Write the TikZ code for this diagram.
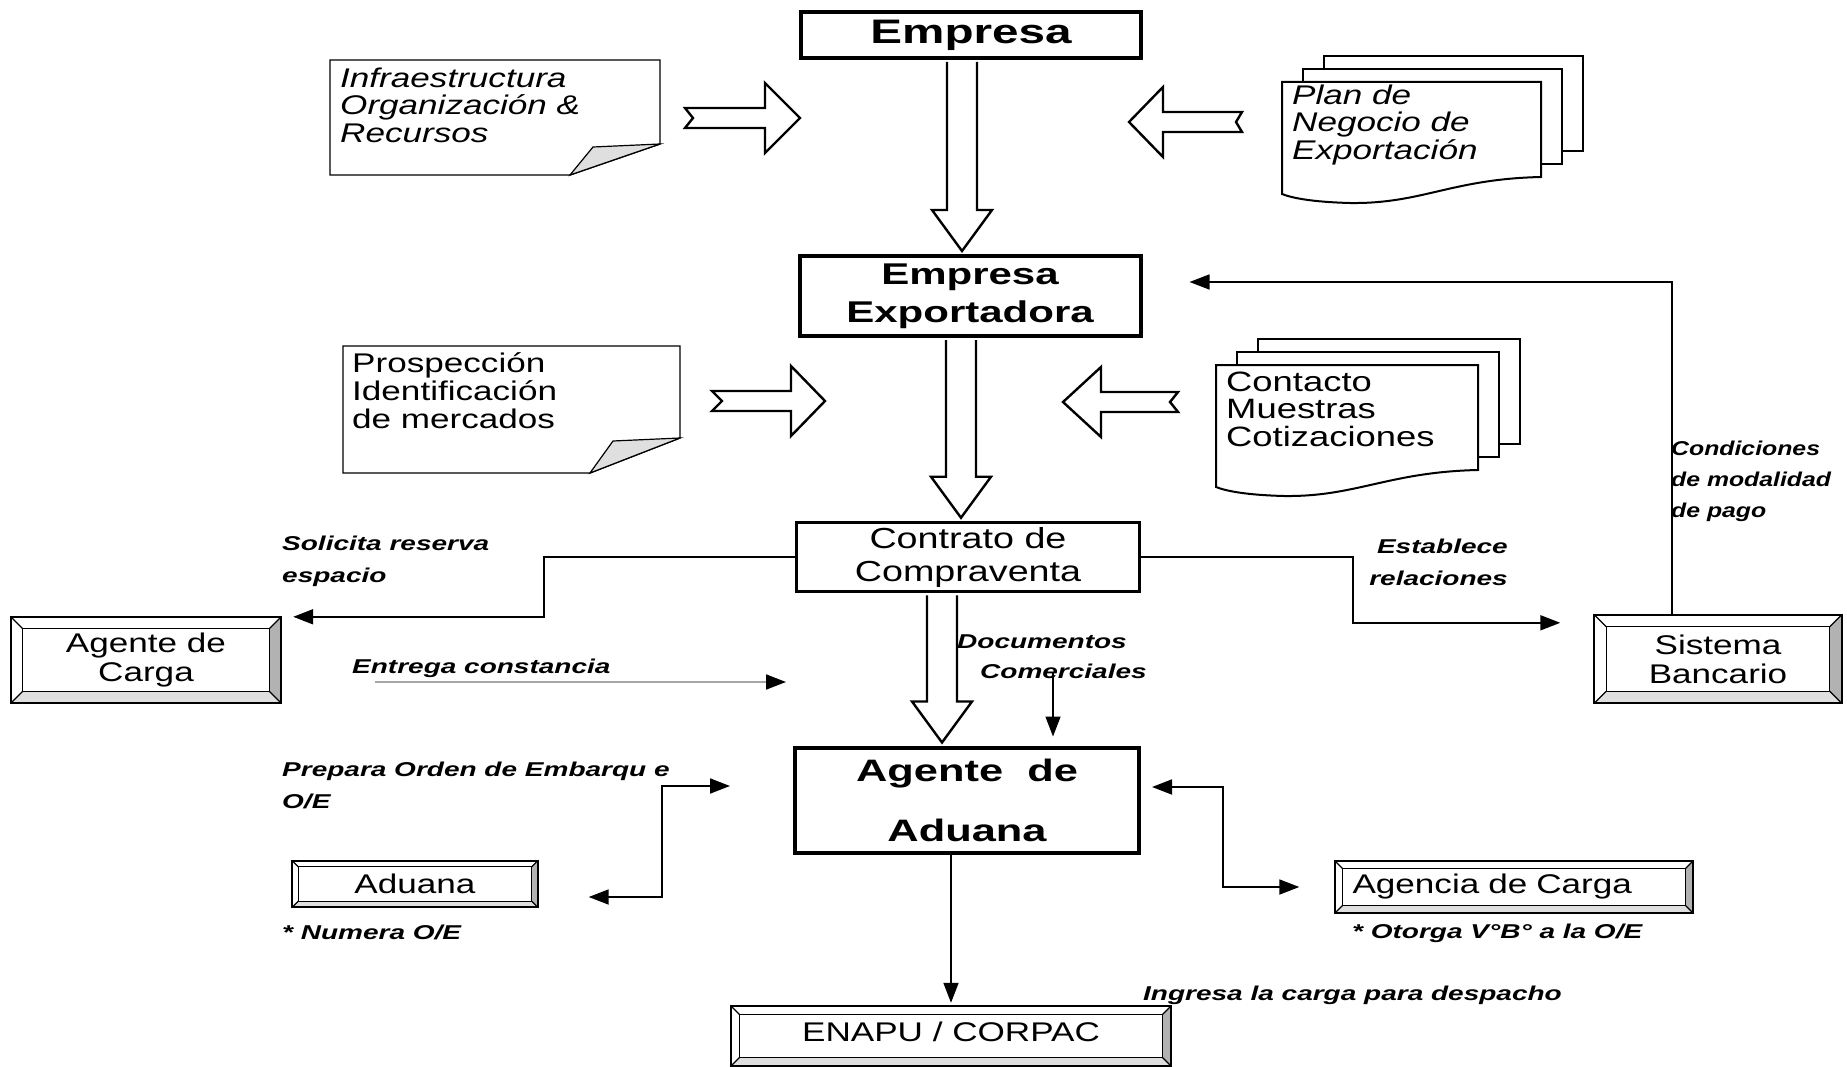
\documentclass[tikz,border=0pt]{standalone}
\usepackage{fontspec}
\usetikzlibrary{arrows.meta,calc}

\newfontfamily\regfont{Liberation Sans}[FakeStretch=1.3]
\newfontfamily\boldfont{Liberation Sans}[FakeStretch=1.4]
\newfontfamily\narrowfont{Liberation Sans}[FakeStretch=1.24]

% hollow side arrow: tail, notch, head base, tip, y
\newcommand{\fatarrow}[5]{%
  \draw[fat] (#1,#5-10) -- (#3,#5-10) -- (#3,#5-35) -- (#4,#5) -- (#3,#5+35)
    -- (#3,#5+10) -- (#1,#5+10) -- (#2,#5) -- cycle;
}

% hollow arrow down between two boxes
\newcommand{\bigdown}[3]{%
  \draw[fat] let \p1=([xshift=#3]#1.south), \p2=([xshift=#3]#2.north) in
    (\x1-15pt,\y1-2pt) -- (\x1-15pt,\y2+44pt) -- (\x1-30pt,\y2+44pt) -- (\x1,\y2+3pt)
    -- (\x1+30pt,\y2+44pt) -- (\x1+15pt,\y2+44pt) -- (\x1+15pt,\y1-2pt);
}

% frame with bevel round a node
\newcommand{\bevelframe}[2]{%
  \fill[gray!60] (#1.north east) -- ([xshift=-#2,yshift=-#2]#1.north east)
    -- ([xshift=-#2,yshift=#2]#1.south east) -- (#1.south east) -- cycle;
  \fill[gray!25] (#1.south west) -- ([xshift=#2,yshift=#2]#1.south west)
    -- ([xshift=-#2,yshift=#2]#1.south east) -- (#1.south east) -- cycle;
  \draw[line width=1.3pt] ([xshift=#2,yshift=-#2]#1.north west) rectangle ([xshift=-#2,yshift=#2]#1.south east);
  \foreach \cn/\dx/\dy in {north west/1/-1, north east/-1/-1, south west/1/1, south east/-1/1}
    \draw[line width=1.3pt] (#1.\cn) -- ([xshift=\dx*#2,yshift=\dy*#2]#1.\cn);
  \draw[line width=2pt] (#1.north west) rectangle (#1.south east);
}

% stack of three sheets: left, top, right, right bottom, left bottom
\newcommand{\docstack}[5]{%
  \draw[doc] (#1+42,#2-26) rectangle (#3+42,#4-26);
  \draw[doc] (#1+21,#2-13) rectangle (#3+21,#4-13);
  \draw[doc] (#1,#2) -- (#3,#2) -- (#3,#4) .. controls (#3-90,#4+2) and (#1+140,#5+10) .. (#1+68,#5+9)
    .. controls (#1+30,#5+8) and (#1+10,#5+4) .. (#1,#5) -- cycle;
}

\begin{document}
\begin{tikzpicture}[x=1pt, y=-1pt,
  mainbox/.style={draw, line width=4pt, inner sep=0pt, align=center},
  bevelbox/.style={inner sep=0pt, align=center, font=\regfont\fontsize{27}{29}\selectfont},
  notetext/.style={inner sep=0pt, anchor=west, align=left, execute at begin node={\lineskiplimit=-50pt}},
  lab/.style={inner sep=0pt, anchor=west, align=left, font=\boldfont\bfseries\itshape\fontsize{20}{32}\selectfont},
  conn/.style={line width=1.8pt, -{Triangle[length=20pt,width=15pt]}},
  dblconn/.style={line width=1.8pt, {Triangle[length=20pt,width=15pt]}-{Triangle[length=20pt,width=15pt]}},
  fat/.style={line width=2.4pt, fill=white, line join=miter},
  doc/.style={line width=2pt, fill=white},
  note/.style={line width=1.4pt, fill=white}]

\useasboundingbox (0,0) rectangle (1847,1067);
\fill[white] (0,0) rectangle (1847,1067);
\clip (0,0) rectangle (1847,1067);

% centre column
\node[mainbox, minimum width=340pt, minimum height=46pt, font=\boldfont\bfseries\fontsize{34}{36}\selectfont] (empresa) at (971,35) {Empresa};
\node[mainbox, minimum width=341pt, minimum height=80pt, font=\boldfont\bfseries\fontsize{30}{38}\selectfont] (exportadora) at (970,296) {Empresa\\Exportadora};
\node[mainbox, line width=3.5pt, minimum width=343pt, minimum height=69pt, font=\regfont\fontsize{29}{33}\selectfont] (contrato) at (968,557) {Contrato de\\Compraventa};
\node[mainbox, minimum width=344pt, minimum height=105pt, font=\boldfont\bfseries\fontsize{31}{60}\selectfont] (agenteAduana) at (967,800) {Agente\ \ de\\Aduana};

\bigdown{empresa}{exportadora}{-9pt}
\bigdown{exportadora}{contrato}{-9pt}
\bigdown{contrato}{agenteAduana}{-26pt}

% inputs
\draw[note] (330,60) -- (660,60) -- (660,144) -- (570,175) -- (330,175) -- cycle;
\filldraw[line width=1.2pt, fill=gray!25] (570,175) -- (593,147) -- (660,144) -- cycle;
\node[notetext, font=\regfont\itshape\fontsize{27}{27.5}\selectfont] (infra) at (340,105) {Infraestructura\\Organización \&\\Recursos};

\draw[note] (343,346) -- (680,346) -- (680,438) -- (590,473) -- (343,473) -- cycle;
\filldraw[line width=1.2pt, fill=gray!25] (590,473) -- (613,441) -- (680,438) -- cycle;
\node[notetext, font=\regfont\fontsize{27}{28}\selectfont] (prosp) at (352,391) {Prospección\\Identificación\\de mercados};

\docstack{1282}{82}{1541}{177}{194}
\node[notetext, font=\regfont\itshape\fontsize{27}{27.5}\selectfont] (plan) at (1292,125) {Plan de\\Negocio de\\Exportación};

\docstack{1216}{365}{1478}{470}{487}
\node[notetext, font=\regfont\fontsize{28}{27.5}\selectfont] (contacto) at (1226,409) {Contacto\\Muestras\\Cotizaciones};

\fatarrow{685}{693}{765}{800}{118}
\fatarrow{1242}{1236}{1163}{1129}{122}
\fatarrow{712}{722}{791}{825}{401}
\fatarrow{1178}{1170}{1101}{1063}{402}

% side boxes
\node[bevelbox, minimum width=270pt, minimum height=86pt] (carga) at (146,660) {Agente de\\Carga};
\bevelframe{carga}{12pt}
\node[bevelbox, minimum width=247pt, minimum height=88pt] (bancario) at (1718,659) {Sistema\\Bancario};
\bevelframe{bancario}{12pt}
\node[bevelbox, minimum width=245pt, minimum height=46pt] (aduana) at (415,884) {Aduana};
\bevelframe{aduana}{6pt}
\node[bevelbox, inner xsep=17pt, text width=323pt, align=left, minimum height=51pt] (agencia) at (1514,887) {Agencia de Carga};
\bevelframe{agencia}{7pt}
\node[bevelbox, minimum width=440pt, minimum height=60pt] (enapu) at (951,1036) {\raisebox{8pt}{ENAPU / CORPAC}};
\bevelframe{enapu}{9pt}

% connectors
\draw[conn] (contrato.west) -- ++(-251,0) |- ([xshift=12pt]carga.north east);
\coordinate (entA) at (375,682);
\coordinate (entB) at (786,682);
\draw[line width=1.8pt, gray!70, -{Triangle[length=20pt,width=15pt,black]}] (entA) -- (entB);
\draw[conn] (contrato.east) -- ++(212,0) |- ([xshift=-34pt,yshift=-8pt]bancario.north west);
\draw[conn, line width=1.5pt] ([xshift=-46pt]bancario.north) |- ([xshift=47pt,yshift=14pt]exportadora.east);
\coordinate (docTop) at (1053,673);
\draw[conn, line width=1.5pt, shorten >=9pt] (docTop) -- (docTop |- agenteAduana.north);
\coordinate (prepA) at ([xshift=-63pt,yshift=14pt]agenteAduana.west);
\coordinate (prepB) at ([xshift=51pt,yshift=-13pt]aduana.east);
\draw[dblconn] (prepB) -| ($(prepA)+(-68,0)$) -- (prepA);
\coordinate (agA) at ([xshift=11pt,yshift=13pt]agenteAduana.east);
\coordinate (agB) at ([xshift=-36pt]agencia.west);
\draw[dblconn] (agA) -| ($(agB)+(-76,0)$) -- (agB);
\draw[conn, shorten >=3pt] (enapu.north |- agenteAduana.south) -- (enapu.north);

% labels
\node[lab] (solicita) at (282,561) {Solicita reserva\\espacio};
\node[lab] (entrega) at (352,668) {Entrega constancia};
\node[lab, anchor=east, align=right] (establece) at (1508,562) {Establece\\relaciones};
\node[lab, font=\narrowfont\bfseries\itshape\fontsize{20}{31}\selectfont] (condiciones) at (1671,481) {Condiciones\\de modalidad\\de pago};
\node[lab, font=\boldfont\bfseries\itshape\fontsize{20}{30}\selectfont] (documentos) at (957,657) {Documentos\\\hspace*{23pt}Comerciales};
\node[lab] (prepara) at (282,785) {Prepara Orden de Embarqu e\\O/E};
\node[lab] (numera) at (282,932) {* Numera O/E};
\node[lab] (otorga) at (1352,933) {* Otorga V°B° a la O/E};
\node[lab] (ingresa) at (1143,995) {Ingresa la carga para despacho};

\end{tikzpicture}
\end{document}
